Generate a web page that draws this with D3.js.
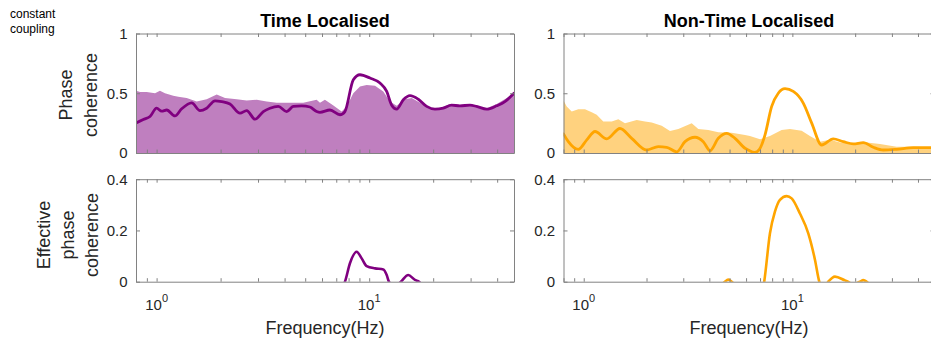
<!DOCTYPE html>
<html><head><meta charset="utf-8">
<script src="https://cdn.jsdelivr.net/npm/d3@7"></script>
<style>
body{margin:0;background:#fff}
svg{display:block}
text{font-family:"Liberation Sans",Arial,Helvetica,sans-serif}
</style>
</head><body>
<svg id="chart" width="931" height="342"></svg>
<script>
// ---------- data ----------
const titles = ["Time Localised", "Non-Time Localised"];
const topYLabel = ["Phase", "coherence"];
const botYLabel = ["Effective", "phase", "coherence"];
const xLabel = "Frequency(Hz)";
const noteText = ["constant", "coupling"];

const xDomain = [0.8, 48];
const xTickValues = [0.8, 0.9, 1, 2, 3, 4, 5, 6, 7, 8, 9, 10, 20, 30, 40];
const xMajorTicks = [1, 10];
const xMajorExps = ["0", "1"];
const topYTicks = [0, 0.5, 1];
const botYTicks = [0, 0.2, 0.4];

// Time localised: surrogate (filled) and phase coherence (line)
const tlAreaFreq = [0.8,0.836,0.898,0.983,1.037,1.095,1.198,1.265,1.385,1.544,1.72,1.918,2.098,2.381,2.653,2.957,3.296,3.672,4.242,4.898,5.66,5.87,6.19,6.76,7.42,7.84,8.42,9.05,9.73,10.65,11.65,12.53,13.47,14.74,15.85,17.34,19.32,21.53,23.99,27.6,32.0,35.7,39.8,44.4,48];
const tlAreaVal  = [0.52,0.51,0.51,0.50,0.52,0.50,0.48,0.47,0.46,0.43,0.45,0.49,0.46,0.45,0.44,0.445,0.43,0.42,0.42,0.42,0.445,0.42,0.445,0.40,0.347,0.39,0.50,0.557,0.57,0.563,0.515,0.43,0.395,0.45,0.46,0.42,0.375,0.375,0.41,0.40,0.39,0.375,0.41,0.46,0.50];
const tlLineFreq = [0.8,0.866,0.931,1.0,1.057,1.116,1.22,1.312,1.462,1.6,1.72,1.883,2.024,2.214,2.468,2.653,2.903,3.177,3.415,3.737,4.092,4.395,4.814,5.266,5.66,5.87,6.54,7.29,7.69,8.42,9.05,10.09,11.24,12.09,12.76,13.47,14.47,15.56,17.02,18.64,20.4,22.3,24.4,26.7,29.8,32.0,35.7,39.8,43.5,48];
const tlLineVal  = [0.25,0.28,0.305,0.375,0.35,0.36,0.31,0.37,0.42,0.355,0.375,0.437,0.43,0.41,0.333,0.355,0.283,0.347,0.375,0.39,0.347,0.39,0.395,0.385,0.347,0.34,0.36,0.32,0.347,0.613,0.655,0.627,0.585,0.515,0.40,0.367,0.445,0.48,0.45,0.39,0.367,0.375,0.40,0.395,0.40,0.39,0.367,0.395,0.43,0.50];

// Non-time localised
const trAreaFreq = [0.8,0.829,0.876,0.942,1.014,1.092,1.154,1.241,1.362,1.465,1.577,1.795,1.967,2.118,2.365,2.591,2.841,3.293,3.541,3.954,4.416,5.119,5.93,6.26,7.0,7.81,8.886,9.74,11.08,12.14,13.56,15.14,16.91,19.58,22.7,26.3,31.6,37.96,45.6,48];
const trAreaVal  = [0.44,0.39,0.347,0.367,0.367,0.34,0.32,0.263,0.263,0.283,0.25,0.277,0.263,0.255,0.227,0.185,0.2,0.25,0.2,0.193,0.174,0.17,0.15,0.143,0.115,0.143,0.193,0.2,0.187,0.143,0.095,0.11,0.087,0.081,0.087,0.076,0.053,0.053,0.048,0.048];
const trLineFreq = [0.8,0.844,0.942,1.034,1.133,1.289,1.492,1.698,2.004,2.278,2.498,2.791,3.058,3.415,3.742,4.03,4.416,4.845,5.31,5.93,6.148,6.6,6.95,7.39,7.96,8.56,9.22,10.1,11.28,12.38,13.82,15.7,17.54,19.58,21.87,24.42,27.27,31.6,37.96,45.6,48];
const trLineVal  = [0.16,0.095,0.03,0.11,0.18,0.118,0.205,0.123,0.025,0.053,0.048,0.01,0.095,0.132,0.095,0.02,0.123,0.165,0.123,0.04,0.025,0.004,0.03,0.15,0.39,0.50,0.538,0.515,0.418,0.25,0.067,0.118,0.095,0.076,0.087,0.048,0.025,0.031,0.045,0.045,0.045];

// Effective phase coherence
const blLineFreq = [6.5,7.29,7.69,8.12,8.73,9.22,9.73,10.65,11.65,12.09,12.39,13.2,14.1,15.27,16.42,17.0,17.6,18.5];
const blLineVal  = [-0.08,-0.03,0,0.072,0.117,0.091,0.061,0.052,0.048,0.026,0,-0.02,0,0.026,0.007,0.002,-0.01,-0.05];
const brLineFreq = [4.5,4.75,4.93,5.12,5.4,7.0,7.33,7.81,8.25,8.72,9.39,9.92,10.87,11.92,12.83,13.46,14.02,14.86,16.0,17.87,18.47,19.5,21.09,21.87,22.7,24];
const brLineVal  = [-0.02,0,0.008,0,-0.02,-0.08,0,0.189,0.273,0.319,0.334,0.325,0.266,0.189,0.086,0,-0.03,0,0.02,0.005,0,-0.01,0,0.006,0,-0.02];

// ---------- drawing ----------
const svg = d3.select("#chart");
const purple = "#800080", purpleFill = "#bf7fbf";
const orange = "#ffa500", orangeFill = "#ffd27f";
const axisColor = "#828282", textColor = "#262626";

const zip = (f, v) => f.map((d, i) => ({f: d, v: v[i]}));

const leftX = d3.scaleLog().domain(xDomain).range([136, 514]);
const rightX = d3.scaleLog().domain(xDomain).range([563.5, 934.5]);
const topY = d3.scaleLinear().domain([0, 1]).range([153, 33.5]);
const botY = d3.scaleLinear().domain([0, 0.4]).range([281.7, 179.2]);

const panels = [
  {id: "tl", x: leftX, y: topY, yt: topYTicks, area: zip(tlAreaFreq, tlAreaVal), line: zip(tlLineFreq, tlLineVal), c: purple, fc: purpleFill, lw: 2.8, xl: false},
  {id: "tr", x: rightX, y: topY, yt: topYTicks, area: zip(trAreaFreq, trAreaVal), line: zip(trLineFreq, trLineVal), c: orange, fc: orangeFill, lw: 2.8, xl: false},
  {id: "bl", x: leftX, y: botY, yt: botYTicks, area: null, line: zip(blLineFreq, blLineVal), c: purple, lw: 2.6, xl: true},
  {id: "br", x: rightX, y: botY, yt: botYTicks, area: null, line: zip(brLineFreq, brLineVal), c: orange, lw: 2.6, xl: true}
];

const defs = svg.append("defs");

function styleAxis(g) {
  g.attr("font-family", null).attr("font-size", null);
  g.select(".domain").attr("stroke", axisColor).attr("stroke-width", 1);
  g.selectAll(".tick line").attr("stroke", axisColor).attr("stroke-width", 1);
  g.selectAll(".tick text").attr("fill", textColor).style("font-size", "15px");
}

panels.forEach(p => {
  const [x0, x1] = p.x.range();
  const [yb, yt] = p.y.range();
  defs.append("clipPath").attr("id", "clip-" + p.id)
    .append("rect").attr("x", x0).attr("y", yt).attr("width", x1 - x0).attr("height", yb - yt);
  const g = svg.append("g");
  const inner = g.append("g").attr("clip-path", `url(#clip-${p.id})`);
  if (p.area) {
    inner.append("path").datum(p.area)
      .attr("fill", p.fc)
      .attr("d", d3.area().x(d => p.x(d.f)).y0(p.y(0)).y1(d => p.y(d.v)).curve(d3.curveLinear));
  }
  inner.append("path").datum(p.line)
    .attr("fill", "none").attr("stroke", p.c).attr("stroke-width", p.lw)
    .attr("stroke-linejoin", "round").attr("stroke-linecap", "round")
    .attr("d", d3.line().x(d => p.x(d.f)).y(d => p.y(d.v)).curve(d3.curveMonotoneX));

  // box with inward ticks
  g.append("g").attr("transform", `translate(0,${yb})`)
    .call(d3.axisBottom(p.x).tickValues(xTickValues).tickFormat("").tickSize(-3.5).tickSizeOuter(0)).call(styleAxis);
  g.append("g").attr("transform", `translate(0,${yt})`)
    .call(d3.axisTop(p.x).tickValues(xTickValues).tickFormat("").tickSize(-3.5).tickSizeOuter(0)).call(styleAxis);
  g.append("g").attr("transform", `translate(${x0},0)`)
    .call(d3.axisLeft(p.y).tickValues(p.yt).tickFormat(d3.format("~g")).tickSize(-4).tickSizeOuter(0).tickPadding(8.5)).call(styleAxis);
  g.append("g").attr("transform", `translate(${x1},0)`)
    .call(d3.axisRight(p.y).tickValues(p.yt).tickFormat("").tickSize(-4).tickSizeOuter(0)).call(styleAxis);

  if (p.xl) {
    xMajorTicks.forEach((v, i) => {
      const t = g.append("text").attr("x", p.x(v)).attr("y", yb + 28.5)
        .attr("text-anchor", "middle").attr("fill", textColor).style("font-size", "15px");
      t.append("tspan").text("10");
      t.append("tspan").attr("dy", -8).style("font-size", "11px").text(xMajorExps[i]);
    });
    g.append("text").attr("x", (x0 + Math.min(x1, 934.5)) / 2).attr("y", 334)
      .attr("text-anchor", "middle").attr("fill", textColor).style("font-size", "18px").text(xLabel);
  }
});

// titles
[leftX, rightX].forEach((sx, i) => {
  const [a, b] = sx.range();
  svg.append("text").attr("x", (a + b) / 2).attr("y", 26.5).attr("text-anchor", "middle")
    .attr("fill", "#000").style("font-size", "18px").style("font-weight", "bold").text(titles[i]);
});

// y labels
topYLabel.forEach((s, i) => {
  svg.append("text").attr("transform", `translate(${72 + i * 25},95) rotate(-90)`)
    .attr("text-anchor", "middle").attr("fill", textColor).style("font-size", "18px").text(s);
});
botYLabel.forEach((s, i) => {
  svg.append("text").attr("transform", `translate(${50 + i * 24},235) rotate(-90)`)
    .attr("text-anchor", "middle").attr("fill", textColor).style("font-size", "18px").text(s);
});

// note
noteText.forEach((s, i) => {
  svg.append("text").attr("x", 10).attr("y", 18 + i * 15).attr("fill", "#000")
    .style("font-size", "12px").text(s);
});
</script>
</body></html>
